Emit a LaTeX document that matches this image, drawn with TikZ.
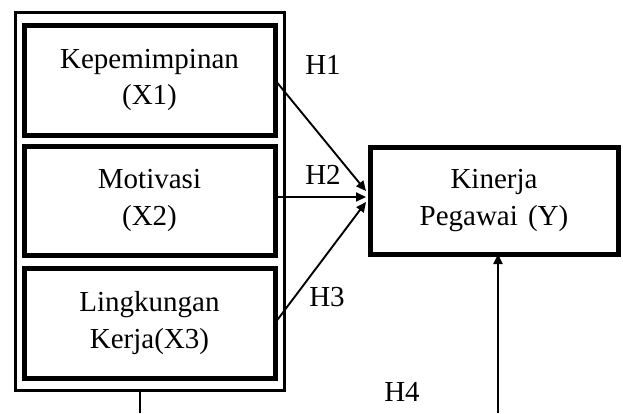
\documentclass[tikz,border=0pt]{standalone}
\usepackage{fontspec}
\setmainfont{Liberation Serif}
\usetikzlibrary{arrows.meta}
\begin{document}
\begin{tikzpicture}[x=1pt,y=-1pt,
  every node/.style={font=\fontsize{29}{36.5}\selectfont, align=center, outer sep=0pt, inner sep=0pt},
  varbox/.style={draw, line width=5pt, rectangle},
  conn/.style={line width=1.9pt},
  arr/.style={conn, -{Triangle[length=10pt,width=9pt]}},
  lbl/.style={}]
\useasboundingbox (0,0) rectangle (623,413);
\node[draw, line width=3pt, minimum width=269pt, minimum height=378pt] (outer) at (150,201.5) {};
\node[varbox, minimum width=251pt, minimum height=110pt] (x1) at (149.5,80) {Kepemimpinan\\(X1)};
\node[varbox, minimum width=251pt, minimum height=109pt] (x2) at (149.5,200.5) {Motivasi\\(X2)};
\node[varbox, minimum width=251pt, minimum height=110pt] (x3) at (149.5,323) {Lingkungan\\Kerja(X3)};
\node[varbox, minimum width=248pt, minimum height=107pt] (y) at (494,200.5) {Kinerja\\Pegawai\hspace{0.35em}(Y)};
\coordinate (t1) at (366,191);
\coordinate (t2) at (366,197);
\coordinate (t3) at (366,202);
\draw[arr] (x1.east) -- (t1);
\draw[arr] (x2.east |- t2) -- (t2);
\draw[arr] (x3.east) -- (t3);
\coordinate (b1) at (140,413);
\coordinate (b2) at (498,413);
\draw[conn] (b1 |- outer.south) -- (b1);
\draw[arr] (b2) -- (b2 |- y.south);
\node[lbl] (h1) at (323,65) {H1};
\node[lbl] (h2) at (323,175) {H2};
\node[lbl] (h3) at (327,297) {H3};
\node[lbl] (h4) at (402,392) {H4};
\end{tikzpicture}
\end{document}
